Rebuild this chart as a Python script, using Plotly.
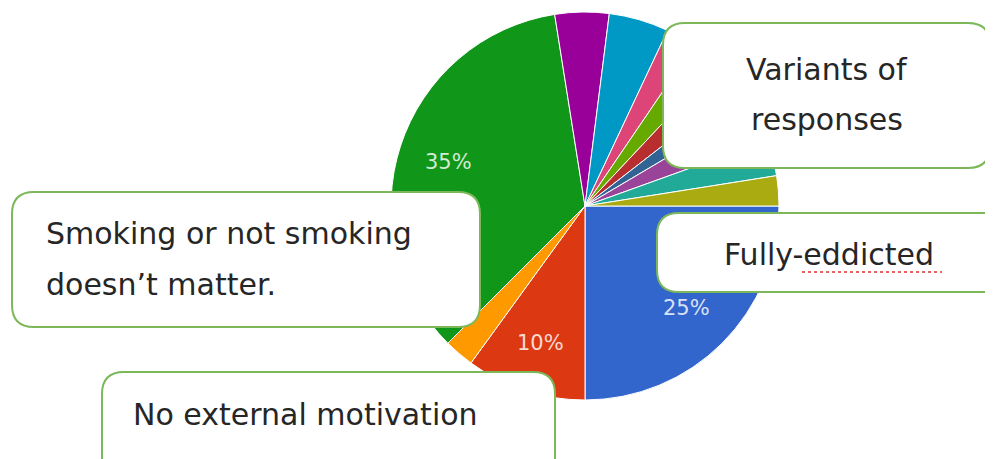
import math
import plotly.graph_objects as go

# ---- data ----
slice_names = ["Fully-addicted", "No external motivation", "Other A",
               "Smoking or not smoking doesn't matter", "Other B", "Other C",
               "Other D", "Other E", "Other F", "Other G", "Other H",
               "Other I", "Other J"]
slice_values = [25, 10, 2.5, 35, 4.5, 5, 2.5, 2.5, 2.5, 2, 3, 3, 2.5]
slice_colors = ["#3366cc", "#dc3912", "#ff9900", "#109618", "#990099",
                "#0099c6", "#dd4477", "#66aa00", "#b82e2e", "#316395",
                "#994499", "#22aa99", "#aaaa11"]
total = sum(slice_values)

callout_lines = [
    ("Variants of", 827, 69, "center"),
    ("responses", 827, 119, "center"),
    ("Fully-eddicted", 829, 254, "center"),
    ("Smoking or not smoking", 44, 234, "left"),
    ("doesn\u2019t matter.", 44, 284, "left"),
    ("No external motivation", 131, 414, "left"),
]
callout_boxes = [
    (663, 23, 990, 168),
    (657, 213, 1010, 292),
    (12, 192, 480, 327),
    (102, 372, 555, 480),
]

W, H = 993, 459
OFF = 8  # page body margin
cx, cy, R = 585, 206, 194
START_DEG = 90  # first slice starts at 3 o'clock, clockwise


def px(x):
    return (x - OFF) / W


def py(y):
    return 1 - (y - OFF) / H


fig = go.Figure()
fig.add_trace(go.Pie(
    labels=slice_names,
    values=slice_values,
    sort=False,
    direction="clockwise",
    rotation=START_DEG,
    marker=dict(colors=slice_colors, line=dict(color="white", width=1)),
    textinfo="none",
    domain=dict(x=[px(cx - R), px(cx + R)], y=[py(cy + R), py(cy - R)]),
    showlegend=False,
    hoverinfo="label+percent",
))

annotations = []
# percentage labels on the big slices, placed along each slice bisector
cum = 0.0
for v in slice_values:
    frac = v / total
    mid = START_DEG + (cum + frac / 2) * 360
    cum += frac
    if frac < 0.08:
        continue
    a = math.radians(mid)
    r = 0.74 * R
    lx = cx + r * math.sin(a)
    ly = cy - r * math.cos(a)
    annotations.append(dict(text=f"{round(frac * 100)}%", xref="paper", yref="paper",
                            x=px(lx), y=py(ly), xanchor="center", yanchor="middle",
                            showarrow=False,
                            font=dict(family="DejaVu Sans", size=21,
                                      color="rgba(255,255,255,0.82)")))


def rounded_path(x0, y0, x1, y1, r):
    X0, X1 = px(x0), px(x1)
    Y0, Y1 = py(y0), py(y1)
    rx, ry = r / W, r / H
    return (f"M {X0 + rx},{Y0} L {X1 - rx},{Y0} Q {X1},{Y0} {X1},{Y0 - ry} "
            f"L {X1},{Y1 + ry} Q {X1},{Y1} {X1 - rx},{Y1} "
            f"L {X0 + rx},{Y1} Q {X0},{Y1} {X0},{Y1 + ry} "
            f"L {X0},{Y0 - ry} Q {X0},{Y0} {X0 + rx},{Y0} Z")


shapes = []
for (x0, y0, x1, y1) in callout_boxes:
    shapes.append(dict(type="path", xref="paper", yref="paper",
                       path=rounded_path(x0, y0, x1, y1, 22),
                       fillcolor="white",
                       line=dict(color="#7cb85a", width=2), layer="above"))
# spell-check squiggle under "eddicted"
shapes.append(dict(type="line", xref="paper", yref="paper",
                   x0=px(802), x1=px(942), y0=py(272), y1=py(272),
                   line=dict(color="#e03030", width=1.5, dash="dot"),
                   layer="above"))

for (txt, x, y, align) in callout_lines:
    annotations.append(dict(text=txt, xref="paper", yref="paper",
                            x=px(x), y=py(y), xanchor=align, yanchor="middle",
                            showarrow=False,
                            font=dict(family="DejaVu Sans", size=30, color="#262626")))

fig.update_layout(
    width=W, height=H,
    margin=dict(l=0, r=0, t=0, b=0),
    paper_bgcolor="white", plot_bgcolor="white",
    shapes=shapes, annotations=annotations,
)

fig.write_html("out.html")
